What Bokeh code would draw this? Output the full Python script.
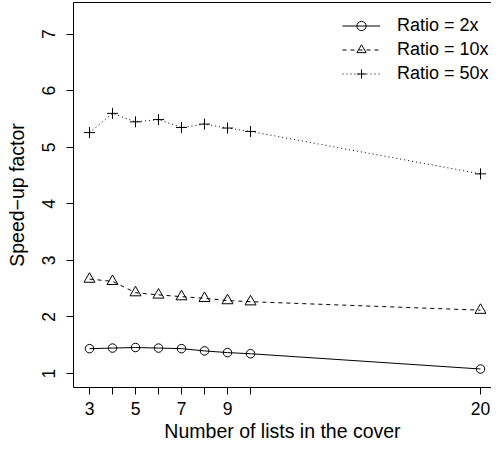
from bokeh.plotting import figure
from bokeh.models import Range1d, LinearAxis, FixedTicker, Legend, LegendItem
from bokeh.embed import file_html
from bokeh.resources import INLINE

n_lists = [3, 4, 5, 6, 7, 8, 9, 10, 20]
ratio_2x = [1.44, 1.45, 1.46, 1.45, 1.44, 1.40, 1.37, 1.35, 1.08]
ratio_10x = [2.67, 2.63, 2.43, 2.39, 2.36, 2.33, 2.29, 2.27, 2.12]
ratio_50x = [5.26, 5.60, 5.45, 5.49, 5.35, 5.41, 5.34, 5.28, 4.53]
x_ticks = [3, 4, 5, 6, 7, 8, 9, 10, 20]
x_hidden = {4: "", 6: "", 8: "", 10: ""}
y_ticks = [1, 2, 3, 4, 5, 6, 7]
labels = ["Ratio = 2x", "Ratio = 10x", "Ratio = 50x"]

FONT = "Liberation Sans"
TICK_FS = "17.5px"
TITLE_FS = "19.5px"
LEG_FS = "18px"

p = figure(width=491, height=444, output_backend="svg", toolbar_location=None,
           x_range=Range1d(2.304, 20.478), y_range=Range1d(0.753, 7.56),
           x_axis_location=None, y_axis_location=None,
           min_border_left=73, min_border_right=0, min_border_top=2, min_border_bottom=56)
p.outline_line_color = None
p.grid.visible = False
p.background_fill_color = "white"
p.border_fill_color = "white"

xa = LinearAxis(ticker=FixedTicker(ticks=x_ticks), axis_label="Number of lists in the cover")
xa.major_label_overrides = x_hidden
ya = LinearAxis(ticker=FixedTicker(ticks=y_ticks), axis_label="Speed\u2212up factor")
ya.major_label_orientation = "vertical"
for ax in (xa, ya):
    ax.axis_line_color = "black"
    ax.major_tick_line_color = "black"
    ax.major_tick_out = 7
    ax.major_tick_in = 0
    ax.minor_tick_line_color = None
    ax.major_label_text_font = FONT
    ax.major_label_text_font_size = TICK_FS
    ax.major_label_text_color = "black"
    ax.axis_label_text_font = FONT
    ax.axis_label_text_font_size = TITLE_FS
    ax.axis_label_text_font_style = "normal"
    ax.axis_label_text_color = "black"
xa.major_label_standoff = 7
xa.axis_label_standoff = 2
ya.major_label_standoff = 11
ya.axis_label_standoff = 12
p.add_layout(xa, "below")
p.add_layout(ya, "left")

ta = LinearAxis(ticker=FixedTicker(ticks=[]))
ta.major_tick_out = 0
ta.minor_tick_out = 0
ta.major_label_text_font_size = "0px"
ta.major_label_standoff = 0
ta.axis_line_color = "black"
p.add_layout(ta, "above")

l1 = p.line(n_lists, ratio_2x, line_color="black", line_width=1)
m1 = p.scatter(n_lists, ratio_2x, marker="circle", size=8.5, fill_color=None, line_color="black", line_width=1)
l2 = p.line(n_lists, ratio_10x, line_color="black", line_width=1, line_dash="4 4")
m2 = p.scatter(n_lists, ratio_10x, marker="triangle", size=11, fill_color=None, line_color="black", line_width=1)
l3 = p.line(n_lists, ratio_50x, line_color="black", line_width=1, line_dash="1 3")
m3 = p.scatter(n_lists, ratio_50x, marker="cross", size=11, fill_color=None, line_color="black", line_width=1)

legend = Legend(items=[LegendItem(label=labels[0], renderers=[l1, m1]),
                       LegendItem(label=labels[1], renderers=[l2, m2]),
                       LegendItem(label=labels[2], renderers=[l3, m3])],
                location=(269, 302))
legend.border_line_color = None
legend.background_fill_alpha = 0
legend.margin = 0
legend.padding = 0
legend.spacing = 1
legend.glyph_width = 38
legend.glyph_height = 23
legend.label_height = 23
legend.label_standoff = 17
legend.label_text_font = FONT
legend.label_text_font_size = LEG_FS
legend.label_text_color = "black"
p.add_layout(legend, "center")

open("out.html", "w").write(file_html(p, INLINE))
